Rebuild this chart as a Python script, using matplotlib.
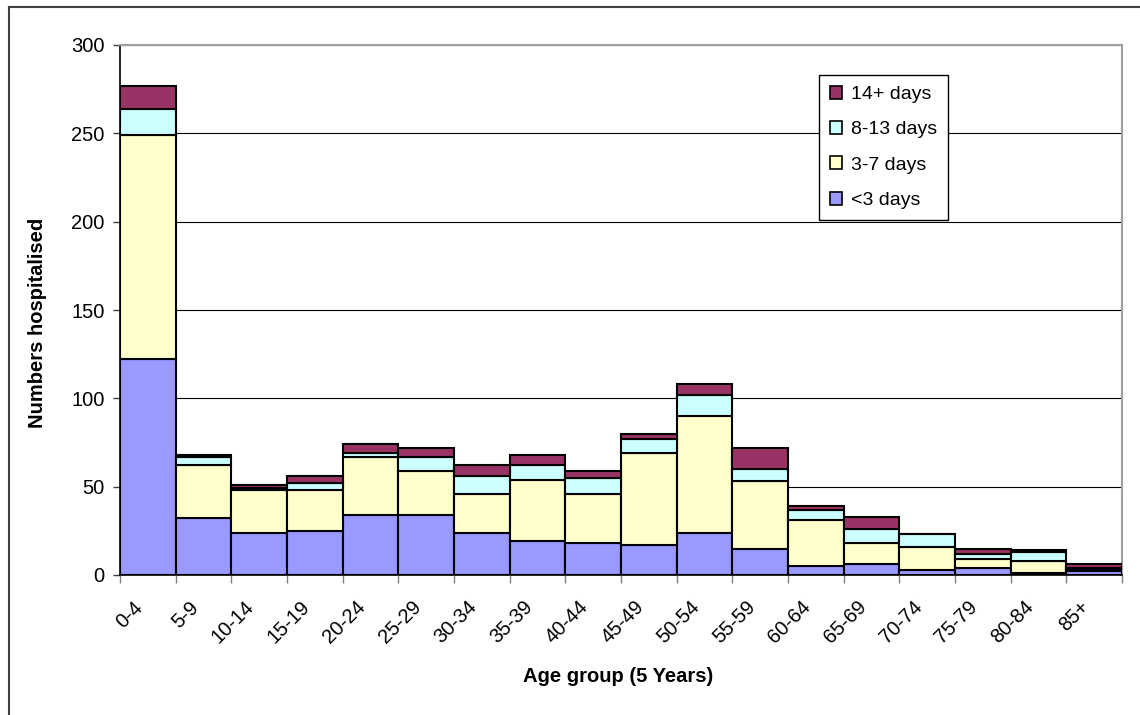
import numpy as np
import matplotlib
matplotlib.use('Agg')
import matplotlib.pyplot as plt
from matplotlib.patches import Patch
from matplotlib.lines import Line2D
import matplotlib.transforms as mtransforms

plt.rcParams['font.family'] = ['Liberation Sans', 'DejaVu Sans']

# hospitalisations by age group, split by length of stay
age_groups = ['0-4', '5-9', '10-14', '15-19', '20-24', '25-29', '30-34', '35-39',
              '40-44', '45-49', '50-54', '55-59', '60-64', '65-69', '70-74',
              '75-79', '80-84', '85+']
under_3 = [122, 32, 24, 25, 34, 34, 24, 19, 18, 17, 24, 15, 5, 6, 3, 4, 1, 2]
days_3_7 = [127, 30, 24, 23, 33, 25, 22, 35, 28, 52, 66, 38, 26, 12, 13, 5, 7, 1]
days_8_13 = [15, 5, 1, 4, 2, 8, 10, 8, 9, 8, 12, 7, 6, 8, 7, 3, 5, 1]
days_14 = [13, 1, 2, 4, 5, 5, 6, 6, 4, 3, 6, 12, 2, 7, 0, 3, 1, 2]

series = [under_3, days_3_7, days_8_13, days_14]
labels = ['<3 days', '3-7 days', '8-13 days', '14+ days']
colours = ['#9999FF', '#FFFFCC', '#CCFFFF', '#993366']

W, H = 1140, 715
fig = plt.figure(figsize=(W / 100, H / 100), dpi=100)
ax = fig.add_axes([120 / W, 1 - 575 / H, 1002 / W, 530 / H])

x = np.arange(len(age_groups))
bottom = np.zeros(len(age_groups))
for vals, lab, col in zip(series, labels, colours):
    vals = np.array(vals, dtype=float)
    ax.bar(x, vals, width=1.0, bottom=bottom, align='edge', color=col,
           edgecolor='black', linewidth=1.5, label=lab, zorder=3)
    bottom += vals

ax.set_xlim(0, len(age_groups))
ax.set_ylim(0, 300)
ax.set_yticks(np.arange(0, 301, 50))
ax.yaxis.grid(True, color='black', linewidth=0.8, zorder=0)
ax.tick_params(axis='y', direction='out', length=5, width=1, labelsize=14.5,
               pad=6, color='#404040')

# ticks on bar boundaries, labels under bar centres
ax.set_xticks(np.arange(0, len(age_groups) + 1))
ax.set_xticklabels([])
ax.tick_params(axis='x', which='major', direction='out', length=6, width=1,
               color='#808080')
ax.set_xticks(x + 0.5, minor=True)
ax.set_xticklabels(age_groups, minor=True, rotation=45, ha='right',
                   va='center', rotation_mode='anchor', fontsize=14.5)
ax.tick_params(axis='x', which='minor', length=0, pad=21)
offset = mtransforms.ScaledTranslation(-8 / 100, 0, fig.dpi_scale_trans)
for t in ax.get_xticklabels(minor=True):
    t.set_transform(t.get_transform() + offset)

for side in ['top', 'right']:
    ax.spines[side].set_color('#A0A0A0')
    ax.spines[side].set_linewidth(1.5)
for side in ['left', 'bottom']:
    ax.spines[side].set_color('black')
    ax.spines[side].set_linewidth(1.2)

ax.set_ylabel('Numbers hospitalised', fontsize=14.5, fontweight='bold')
ax.yaxis.set_label_coords(47 / W, 1 - 323 / H, transform=fig.transFigure)
fig.text(618 / W, 1 - 676 / H, 'Age group (5 Years)',
         ha='center', va='center', fontsize=14.5, fontweight='bold')

handles = [Patch(facecolor=c, edgecolor='black', linewidth=1.2)
           for c in colours][::-1]
leg = ax.legend(handles, labels[::-1], loc='upper left',
                bbox_to_anchor=(819 / W, 1 - 75 / H),
                bbox_transform=fig.transFigure, borderaxespad=0,
                fontsize=14, frameon=True, fancybox=False, shadow=False,
                handlelength=0.65, handleheight=0.65, handletextpad=0.45,
                labelspacing=0.93, borderpad=0.55)
leg.get_frame().set_edgecolor('black')
leg.get_frame().set_linewidth(1.0)
leg.get_frame().set_alpha(1)
leg.set_zorder(5)

# outer chart border (cut off at the right and bottom)
fig.add_artist(Line2D([9 / W, 1], [1 - 7 / H, 1 - 7 / H],
                      transform=fig.transFigure, color='#404040', linewidth=1.5))
fig.add_artist(Line2D([9 / W, 9 / W], [0, 1 - 7 / H],
                      transform=fig.transFigure, color='#404040', linewidth=1.5))

fig.savefig('out.png', dpi=100)
